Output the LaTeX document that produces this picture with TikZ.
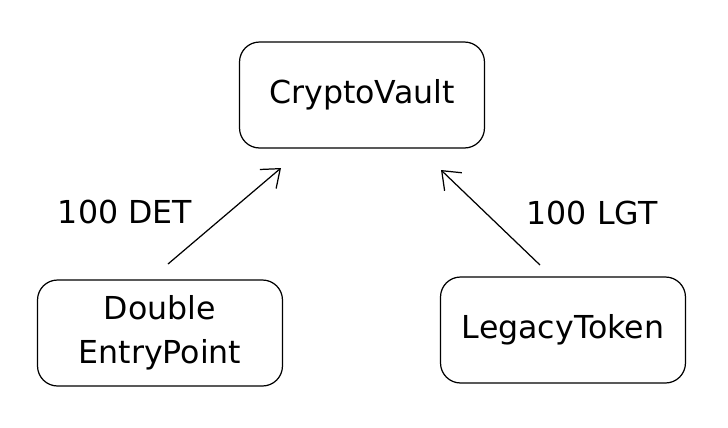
\documentclass[tikz,border=0pt]{standalone}
\usepackage{fontspec}
\setmainfont{DejaVu Sans}
\usetikzlibrary{arrows.meta,positioning}
\tikzset{every node/.style={align=center}}

\begin{document}
\begin{tikzpicture}[x=0.02cm,y=-0.02cm,>={Straight Barb[length=3.2mm,width=5mm]},line width=0.7pt,
  box/.style={rectangle,draw,rounded corners=0.4cm,minimum width=4.9cm,minimum height=2.12cm,font=\fontsize{18}{25}\selectfont},
  amount/.style={font=\fontsize{18}{25}\selectfont}]
\useasboundingbox (0,0) rectangle (728,427);

\node[box] (V) at (362,95) {CryptoVault};
\node[box] (D) at (160,333) {Double\\EntryPoint};
\node[box] (L) at (563,330) {LegacyToken};

\node[amount] (DET) at (125,212) {100 DET};
\node[amount] (LGT) at (592,213) {100 LGT};

% free ends of the arrows
\coordinate (d0) at (168,264);
\coordinate (d1) at (281,168);
\coordinate (l0) at (540,265);
\coordinate (l1) at (441,170);

\draw[->] (d0) -- (d1);
\draw[->] (l0) -- (l1);

\end{tikzpicture}
\end{document}
